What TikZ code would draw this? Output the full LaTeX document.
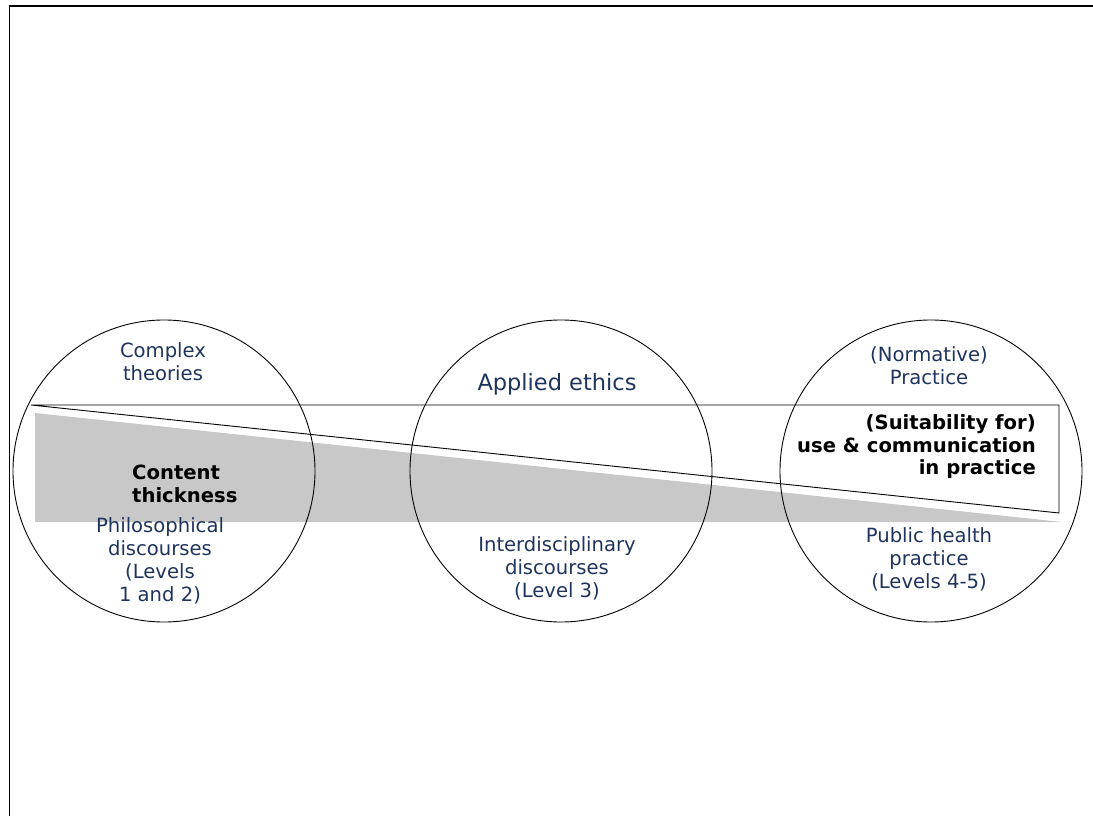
\documentclass[tikz,border=0pt]{standalone}
\usepackage{fontspec}
\setmainfont{DejaVu Sans}
\definecolor{navy}{RGB}{31,52,92}
\definecolor{wedgegrey}{RGB}{200,200,200}
\begin{document}
\begin{tikzpicture}[x=1pt,y=-1pt,
  ring/.style={circle,draw=black,line width=0.9pt,minimum size=302pt,inner sep=0pt},
  lbl/.style={text=navy,align=center,inner sep=0pt,font=\fontsize{19.6}{23}\selectfont},
  bold lbl/.style={text=black,inner sep=0pt,font=\fontsize{19.6}{22.5}\bfseries\selectfont},
  edge line/.style={draw=black,line width=0.9pt}]
\useasboundingbox (0,0) rectangle (1093,816);
% frame
\draw[line width=1.4pt] (9.5,816) -- (9.5,6) -- (1093,6);
% grey wedge
\coordinate (g1) at (35,413);
\coordinate (g2) at (35,522);
\coordinate (g3) at (1062,522);
\fill[fill=wedgegrey] (g1) -- (g2) -- (g3) -- cycle;
% outline wedge
\coordinate (t1) at (31,405);
\coordinate (t2) at (1059,405);
\coordinate (t3) at (1059,513);
\draw[edge line,line join=miter] (t1) -- (t2) -- (t3) -- cycle;
% circles
\node[ring] (c1) at (164,471) {};
\node[ring] (c2) at (561,471) {};
\node[ring] (c3) at (931,471) {};
% labels
\node[lbl] (ct) at (163,362) {Complex\\theories};
\node[lbl,font=\fontsize{22.5}{26}\selectfont] (ae) at (557,384) {Applied ethics};
\node[lbl] (np) at (929,366) {(Normative)\\Practice};
\node[lbl] (pd) at (160,561) {Philosophical\\discourses\\(Levels\\1 and 2)};
\node[lbl] (id) at (557,568) {Interdisciplinary\\discourses\\(Level 3)};
\node[lbl] (ph) at (929,559) {Public health\\practice\\(Levels 4-5)};
\node[bold lbl,align=left,anchor=west] (th) at (132,484) {Content\\thickness};
\node[bold lbl,align=right,anchor=east] (su) at (1036,447) {(Suitability for)\\use \& communication\\in practice};
\end{tikzpicture}
\end{document}
